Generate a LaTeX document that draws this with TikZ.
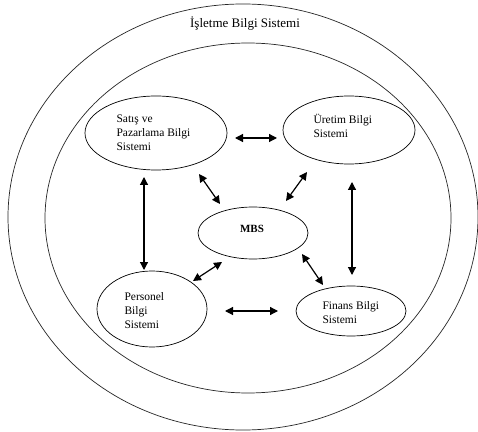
\documentclass[tikz,border=0pt]{standalone}
\usepackage{fontspec}
\setmainfont{Liberation Serif}
\usetikzlibrary{shapes.geometric,arrows.meta}
\begin{document}
\begin{tikzpicture}[x=1pt,y=1pt,
  ring/.style={draw=black!85,line width=0.7pt},
  sysbox/.style={ellipse,draw,line width=0.7pt,inner sep=0pt},
  lbl/.style={anchor=west,align=left,font=\fontsize{11.5}{14}\selectfont},
  conn/.style={{Triangle[length=8pt,width=8pt]}-{Triangle[length=8pt,width=8pt]},line width=1.2pt}]
\useasboundingbox (0,0) rectangle (478,431);
\fill[white] (0,0) rectangle (478,431);
% rings
\node[ring,ellipse,minimum width=470pt,minimum height=426pt,inner sep=0pt] (outer) at (243,214) {};
\node[ring,ellipse,minimum width=406pt,minimum height=350pt,inner sep=0pt] (inner) at (248,213) {};
\node[font=\fontsize{13}{15}\selectfont] (title) at (245,407) {İşletme Bilgi Sistemi};
% systems
\node[sysbox,minimum width=142pt,minimum height=74pt] (sat) at (156,298) {};
\node[sysbox,minimum width=132pt,minimum height=68pt] (ure) at (349,301) {};
\node[sysbox,minimum width=110pt,minimum height=52pt] (mbs) at (253,198) {};
\node[sysbox,minimum width=110pt,minimum height=76pt] (per) at (152,122) {};
\node[sysbox,minimum width=110pt,minimum height=50pt] (fin) at (351,120) {};
% labels
\node[lbl] (satl) at (113,298) {Satış ve\\Pazarlama Bilgi\\Sistemi};
\node[lbl] (urel) at (310,305) {Üretim Bilgi\\Sistemi};
\node[font=\fontsize{11}{13}\selectfont\bfseries] (mbsl) at (252,202) {MBS};
\node[lbl] (perl) at (121,120) {Personel\\Bilgi\\Sistemi};
\node[lbl] (finl) at (319,118) {Finans Bilgi\\Sistemi};
% connector ends
\coordinate (a1s) at (235,293); \coordinate (a1e) at (277,293);
\coordinate (a2s) at (144,254); \coordinate (a2e) at (144,161);
\coordinate (a3s) at (352,249); \coordinate (a3e) at (352,156);
\coordinate (a4s) at (225,120); \coordinate (a4e) at (278,120);
\coordinate (a5s) at (199,257); \coordinate (a5e) at (220,227);
\coordinate (a6s) at (307,259); \coordinate (a6e) at (286,230);
\coordinate (a7s) at (222,169); \coordinate (a7e) at (193,150);
\coordinate (a8s) at (302,177); \coordinate (a8e) at (323,146);
\foreach \i in {1,...,8} {\draw[conn] (a\i s) -- (a\i e);}
\end{tikzpicture}
\end{document}
